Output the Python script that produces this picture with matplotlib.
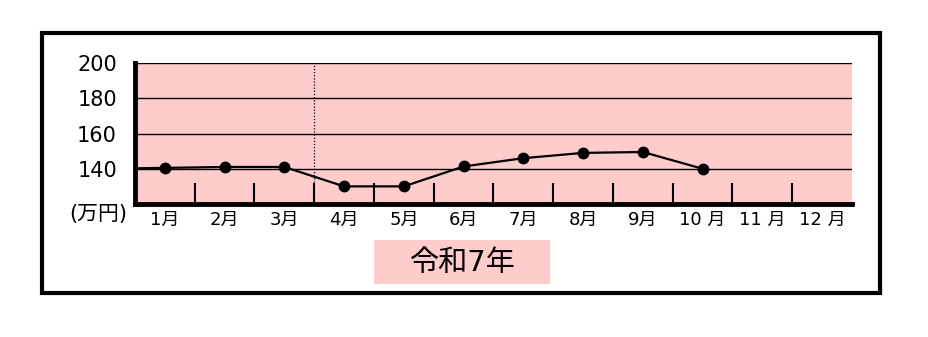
import matplotlib.pyplot as plt
from matplotlib.patches import Rectangle

plt.rcParams['font.family'] = ['DejaVu Sans', 'Noto Sans CJK JP']

months = ["1月", "2月", "3月", "4月", "5月", "6月", "7月", "8月", "9月", "10 月", "11 月", "12 月"]
values = [140.5, 141, 141, 130, 130, 141.3, 146, 149, 149.5, 140]
prev_value = 140  # previous month, runs in from the left edge
yticks = [140, 160, 180, 200]
year_label = "令和7年"
unit_label = "(万円)"

pink = "#ffcccc"

fig = plt.figure(figsize=(9.29, 3.37), dpi=100)

# outer frame
fig.patches.append(Rectangle((42 / 929, 1 - 293 / 337), 838 / 929, 260 / 337,
                             transform=fig.transFigure, fill=False,
                             edgecolor="black", linewidth=3))

ax = fig.add_axes([135 / 929, 1 - 204 / 337, 717 / 929, 141 / 337])
ax.set_facecolor(pink)
ax.set_xlim(-0.5, 11.5)
ax.set_ylim(120, 200)

for v in yticks:
    ax.axhline(v, color="black", linewidth=1, zorder=1)

# fiscal year separator
ax.axvline(2.5, color="black", linestyle=(0, (1, 1.5)), linewidth=0.9, zorder=1)

x = list(range(len(values)))
ax.plot([-1, 0], [prev_value, values[0]], color="black", linewidth=1.6, zorder=3)
ax.plot(x, values, color="black", linewidth=1.6, marker="o", markersize=7.5, zorder=3)

ax.set_yticks(yticks)
ax.set_yticklabels([str(v) for v in yticks], fontsize=15)
ax.tick_params(axis="y", length=0, pad=13)

ax.set_xticks(range(12))
ax.set_xticklabels(months, fontsize=13)
ax.tick_params(axis="x", which="major", length=0, pad=5)
ax.set_xticks([i + 0.5 for i in range(11)], minor=True)
ax.tick_params(axis="x", which="minor", direction="in", length=15, width=1.5, color="black")

for s in ["top", "right"]:
    ax.spines[s].set_visible(False)
ax.spines["left"].set_linewidth(3.5)
ax.spines["bottom"].set_linewidth(3.5)

fig.text(127 / 929, 1 - 214 / 337, unit_label, fontsize=15, ha="right", va="center")

# year label box
fig.patches.append(Rectangle((374 / 929, 1 - 284 / 337), 176 / 929, 44 / 337,
                             transform=fig.transFigure, facecolor=pink,
                             edgecolor="none"))
fig.text(462 / 929, 1 - 263 / 337, year_label, fontsize=21, ha="center", va="center")

fig.savefig("out.png", dpi=100)
